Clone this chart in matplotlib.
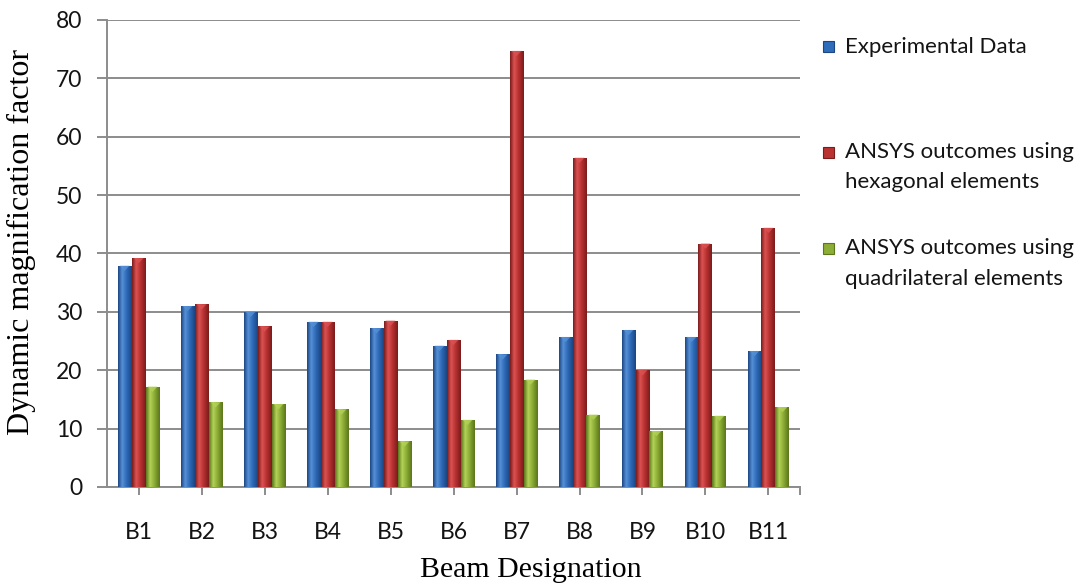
import numpy as np
import matplotlib.pyplot as plt
from matplotlib.colors import LinearSegmentedColormap
from matplotlib.patches import Polygon, Rectangle

beams = ["B1", "B2", "B3", "B4", "B5", "B6", "B7", "B8", "B9", "B10", "B11"]
experimental = [37.9, 31.0, 30.0, 28.3, 27.2, 24.2, 22.7, 25.7, 26.9, 25.7, 23.3]
ansys_hex = [39.2, 31.3, 27.5, 28.3, 28.5, 25.2, 74.7, 56.4, 20.0, 41.7, 44.4]
ansys_quad = [17.2, 14.5, 14.2, 13.3, 7.8, 11.5, 18.4, 12.4, 9.6, 12.2, 13.7]

series_names = [
    "Experimental Data",
    "ANSYS outcomes using\nhexagonal elements",
    "ANSYS outcomes using\nquadrilateral elements",
]
# (dark edge, light highlight, body) for the cylinder-like shading
shades = [
    ("#1c4682", "#5690d6", "#2f6cba"),
    ("#7a1c1c", "#dc5252", "#ba3232"),
    ("#5b761b", "#b3d257", "#8cad36"),
]

sans = ["Lato", "DejaVu Sans"]
serif = ["Liberation Serif", "DejaVu Serif"]

fig = plt.figure(figsize=(10.89, 5.87), dpi=100)
ax = fig.add_axes([0.0983, 0.1704, 0.6363, 0.7956])

x = np.arange(len(beams))
w = 0.222
grad = np.linspace(0, 1, 64).reshape(1, -1)

for i, vals in enumerate([experimental, ansys_hex, ansys_quad]):
    dark, light, body = shades[i]
    cmap = LinearSegmentedColormap.from_list(
        "c%d" % i, [(0, dark), (0.3, light), (0.6, body), (1, dark)])
    bars = ax.bar(x + (i - 1) * w, vals, w, color=body, zorder=3)
    for p in bars:
        x0, y0 = p.get_x(), p.get_y()
        bw, bh = p.get_width(), p.get_height()
        im = ax.imshow(grad, cmap=cmap, aspect="auto", zorder=3.5,
                       extent=[x0, x0 + bw, y0, y0 + bh])
        im.set_clip_path(p)
        # bevelled top face
        cap = 0.9
        ax.add_patch(Polygon([[x0 + bw * 0.15, y0 + bh], [x0 + bw * 0.85, y0 + bh],
                              [x0 + bw * 0.5, y0 + bh - cap]],
                             closed=True, facecolor=light, edgecolor="none",
                             alpha=0.8, zorder=4))

ax.set_xlim(-0.5, len(beams) - 0.5)
ax.set_ylim(0, 80)
ax.set_yticks(range(0, 81, 10))
ax.set_xticks(x)
ax.set_xticklabels(beams)
ax.set_xticks([len(beams) - 0.5], minor=True)

ax.grid(axis="y", color="#8c8c8c", linewidth=1.4, zorder=0)
ax.set_axisbelow(True)
for s in ["top", "right"]:
    ax.spines[s].set_visible(False)
for s in ["left", "bottom"]:
    ax.spines[s].set_color("#8c8c8c")
    ax.spines[s].set_linewidth(1.4)

ax.tick_params(axis="y", direction="out", length=7, width=1.4, color="#8c8c8c",
               pad=11, labelsize=16.5, labelcolor="#141414")
ax.tick_params(axis="x", which="both", direction="out", length=6, width=1.4,
               color="#8c8c8c", pad=19, labelsize=16.5, labelcolor="#141414")
for lab in ax.get_xticklabels() + ax.get_yticklabels():
    lab.set_family(sans)

ax.set_ylabel("Dynamic magnification factor", family=serif, fontsize=23, va="center")
ax.yaxis.set_label_coords(-0.123, 0.525)
ax.set_xlabel("Beam Designation", family=serif, fontsize=21.5, va="center")
ax.xaxis.set_label_coords(0.612, -0.178)

# legend on the right
legend_y = [0.920, 0.741, 0.577]
for (dark, light, body), name, ly in zip(shades, series_names, legend_y):
    fig.patches.append(Rectangle((823 / 1089, ly - 5.5 / 587), 11 / 1089, 11 / 587,
                                 transform=fig.transFigure, facecolor=body,
                                 edgecolor=dark, linewidth=0.8))
    if "\n" in name:
        fig.text(845 / 1089, ly + 10 / 587, name, family=sans, fontsize=16,
                 color="#141414", va="top", linespacing=1.65)
    else:
        fig.text(845 / 1089, ly, name, family=sans, fontsize=16,
                 color="#141414", va="center")

fig.savefig("out.png", dpi=100)
